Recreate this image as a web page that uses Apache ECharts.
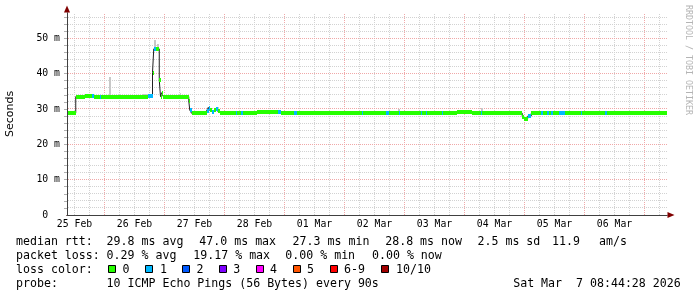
<!DOCTYPE html>
<html><head><meta charset="utf-8">
<script src="https://cdn.jsdelivr.net/npm/echarts@6/dist/echarts.min.js"></script>
<style>html,body{margin:0;padding:0;background:#fff}#c{width:697px;height:297px}</style>
</head><body><div id="c"></div>
<script>
// time in hours since 25 Feb 00:00 ; median rtt in ms ; loss level index
const segStart = [9.0,12.5,16.0,19.0,19.6,22.0,22.6,41.4,43.2,43.7,44.4,45.9,46.4,46.8,47.5,57.7,58.1,58.8,
  64.8,65.6,66.1,66.9,67.7,68.5,69.3,70.0,70.8,76.4,77.1,78.4,79.2,85.1,93.2,94.4,99.6,101.1,126.8,127.5,
  136.4,137.7,138.4,139.5,141.7,142.1,150.4,151.0,152.4,153.1,159.1,159.5,165.1,171.1,174.4,174.8,191.1,
  191.7,193.3,194.7,198.4,199.2,200.8,201.6,202.4,203.2,205.7,208.0,214.4,215.1,224.0,224.8,228.8,236.8];
const segMedian = [28.9,33.5,33.7,33.7,33.5,33.5,33.5,33.6,40.3,47.0,47.0,38.2,33.5,34.6,33.5,32.3,29.7,28.8,
  29.5,30.4,29.6,29.2,29.6,30.1,29.3,29.0,28.8,28.8,28.8,28.8,28.8,29.1,29.1,28.8,28.8,28.8,28.8,28.8,
  28.8,28.8,29.0,28.8,28.8,28.8,28.8,28.8,28.8,28.8,28.8,28.8,29.2,28.8,28.8,28.8,27.8,
  27.3,28.0,28.8,28.8,28.8,28.8,28.8,28.8,28.8,28.8,28.8,28.8,28.8,28.8,28.8,29.0,28.8];
const segLoss = [0,0,0,1,0,1,0,1,0,1,0,0,0,0,0,0,1,0,
  1,1,0,1,0,1,0,0,0,1,0,1,0,0,1,0,1,0,1,0,
  1,0,0,0,1,0,1,0,1,0,1,0,0,0,1,0,0,
  0,1,0,1,0,1,0,1,0,1,0,1,0,1,0,0,0];
const endHour = 249;
// smoke (ping spread)
const smokeStart = [25.9,39.0,43.9,45.1,54.2,65.0,68.9,85.1,141.3,163.1,174.4,211.7,228.8];
const smokeEnd   = [26.7,43.2,44.7,45.9,54.6,66.0,69.7,94.4,142.0,165.1,175.3,215.7,236.8];
const smokeLow   = [33.5,33.5,47.0,47.0,33.5,29.5,29.3,29.1,28.8,28.8,28.8,28.8,29.0];
const smokeHigh  = [39.1,34.3,49.5,48.4,34.6,30.6,30.6,29.6,30.0,29.4,30.2,29.3,29.4];
// axis labels
const dayLabels = ['25 Feb','26 Feb','27 Feb','28 Feb','01 Mar','02 Mar','03 Mar','04 Mar','05 Mar','06 Mar'];
const dayLabelHours = [12,36,60,84,108,132,156,180,204,228];
const yLabelValues = [0,10,20,30,40,50];
// legend
const lossLabels = ['0','1','2','3','4','5','6-9','10/10'];
const lossColors = ['#26ff00','#00b8ff','#0059ff','#7e00ff','#ff00ff','#ff5500','#ff0000','#a10000'];
const rttTitle = 'median rtt:';
const rttStats = ['29.8 ms avg','47.0 ms max','27.3 ms min','28.8 ms now','2.5 ms sd','11.9','am/s'];
const lossTitle = 'packet loss:';
const lossStats = ['0.29 % avg','19.17 % max','0.00 % min','0.00 % now'];
const colorTitle = 'loss color:';
const probeTitle = 'probe:';
const probeText = '10 ICMP Echo Pings (56 Bytes) every 90s';
const stampText = 'Sat Mar  7 08:44:28 2026';

// ---- layout / style ----
const X_MIN = 9, X_MAX = 249, Y_MAX = 57.16;
const MINOR = '#d2d2d2', MAJOR = '#f0a8a8';
const MONO = '"DejaVu Sans Mono"';
const vGrid = []; for (let h = 12; h <= 246; h += 6) vGrid.push([h, h % 24 === 0 ? 1 : 0]);
const hGrid = []; for (let v = 2; v <= 56; v += 2) hGrid.push([v, v % 10 === 0 ? 1 : 0]);
const yTicks = hGrid.map(d => d[0]);

const bandData = segStart.map((s, i) => [s, i + 1 < segStart.length ? segStart[i + 1] : endHour, segMedian[i], segLoss[i]]);
const lineData = segStart.map((s, i) => [s, segMedian[i]]).concat([[endHour, segMedian[segMedian.length - 1]]]);
const smokeData = smokeStart.map((s, i) => [s, smokeEnd[i], smokeLow[i], smokeHigh[i]]);

const LF = 11.6;
const rowY = [242.4, 256.2, 270.0, 283.8];
const rttX = [106.6, 199.3, 292.6, 385.2, 477.5, 552.0, 599.0];
const lossX = [106.6, 193.3, 285.3, 372.0];
const sqX = [108, 145, 182, 219, 256, 293, 330, 381];
const sqLabelX = [122.6, 160.0, 196.6, 233.3, 270.0, 307.0, 344.0, 396.0];
function txt(x, y, s, opt) {
  return Object.assign({type: 'text', x: x, y: y, silent: true,
    style: {text: s, fontFamily: MONO, fontSize: LF, fill: '#000', verticalAlign: 'middle', align: 'left'}}, opt || {});
}
const g = [];
g.push(txt(16, rowY[0], rttTitle));
rttStats.forEach((s, i) => g.push(txt(rttX[i], rowY[0], s)));
g.push(txt(16, rowY[1], lossTitle));
lossStats.forEach((s, i) => g.push(txt(lossX[i], rowY[1], s)));
g.push(txt(16, rowY[2], colorTitle));
lossLabels.forEach((s, i) => {
  g.push({type: 'rect', silent: true, shape: {x: sqX[i] + 0.5, y: 265.5, width: 7, height: 7},
    style: {fill: lossColors[i], stroke: '#000', lineWidth: 1}});
  g.push(txt(sqLabelX[i], rowY[2], s));
});
g.push(txt(16, rowY[3], probeTitle));
g.push(txt(106.6, rowY[3], probeText));
g.push(txt(513.2, rowY[3], stampText));
g.push({type: 'text', x: 688, y: 60, rotation: -Math.PI / 2, silent: true,
  style: {text: 'RRDTOOL / TOBI OETIKER', fontFamily: MONO, fontSize: 8.3, fill: '#b4b4b4', align: 'center', verticalAlign: 'middle'}});

const axisCommon = {min: X_MIN, max: X_MAX, type: 'value', position: 'bottom'};
const option = {
  animation: false,
  backgroundColor: '#ffffff',
  grid: {left: 67, right: 30, top: 13, bottom: 82, containLabel: false, outerBoundsMode: 'none'},
  xAxis: [
    Object.assign({}, axisCommon, {
      z: 5,
      axisLine: {show: true, onZero: false, lineStyle: {color: '#404040', width: 1}},
      axisTick: {show: false},
      splitLine: {show: false},
      axisLabel: {show: true, customValues: dayLabelHours, margin: 4, color: '#000', fontFamily: MONO, fontSize: 9.8,
        formatter: v => dayLabels[dayLabelHours.indexOf(v)] || ''}
    }),
    Object.assign({}, axisCommon, {
      z: 4,
      axisLine: {show: true, onZero: false, lineStyle: {color: '#800000', width: 1},
        symbol: ['none', 'triangle'], symbolSize: [6, 7], symbolOffset: [0, 4]},
      axisTick: {show: false}, splitLine: {show: false}, axisLabel: {show: false}
    })
  ],
  yAxis: [
    {
      type: 'value', min: 0, max: Y_MAX, position: 'left', z: 5,
      name: 'Seconds', nameLocation: 'middle', nameRotate: 90, nameGap: 51, nameMoveOverlap: false,
      nameTextStyle: {fontFamily: '"DejaVu Sans"', fontSize: 11, color: '#000'},
      axisLine: {show: true, onZero: false, lineStyle: {color: '#404040', width: 1}},
      axisTick: {show: true, customValues: yTicks, length: 3, lineStyle: {color: '#b0b0b0'}},
      splitLine: {show: false},
      axisLabel: {show: true, customValues: yLabelValues, margin: 7, color: '#000', fontFamily: MONO, fontSize: 9.8,
        formatter: v => v === 0 ? '0  ' : v + ' m'}
    },
    {
      type: 'value', min: 0, max: Y_MAX, position: 'left', z: 4,
      axisLine: {show: true, onZero: false, lineStyle: {color: '#800000', width: 1},
        symbol: ['none', 'triangle'], symbolSize: [6, 7], symbolOffset: [0, 4]},
      axisTick: {show: false}, splitLine: {show: false}, axisLabel: {show: false}
    }
  ],
  graphic: g,
  series: [
    {
      type: 'custom', name: 'vgrid', z: 1, silent: true, encode: {x: 0},
      data: vGrid,
      renderItem: (params, api) => {
        const h = api.value(0), major = api.value(1);
        const b = api.coord([h, 0]), t = api.coord([h, Y_MAX]);
        const x = Math.floor(b[0]) + 0.5;
        return {type: 'line', shape: {x1: x, y1: Math.round(b[1]), x2: x, y2: Math.round(t[1])},
          style: {stroke: major ? MAJOR : MINOR, lineWidth: 1, lineDash: [1, 1]}};
      }
    },
    {
      type: 'custom', name: 'hgrid', z: 1, silent: true, encode: {y: 0},
      data: hGrid,
      renderItem: (params, api) => {
        const v = api.value(0), major = api.value(1);
        const l = api.coord([X_MIN, v]), r = api.coord([X_MAX, v]);
        const y = Math.floor(l[1]) + 0.5;
        return {type: 'line', shape: {x1: Math.round(l[0]) + 1, y1: y, x2: Math.round(r[0]), y2: y},
          style: {stroke: major ? MAJOR : MINOR, lineWidth: 1, lineDash: [1, 1]}};
      }
    },
    {
      type: 'custom', name: 'smoke', z: 2, silent: true, encode: {x: [0, 1], y: [2, 3]},
      data: smokeData,
      renderItem: (params, api) => {
        const p0 = api.coord([api.value(0), api.value(3)]), p1 = api.coord([api.value(1), api.value(2)]);
        const x0 = Math.round(p0[0]), x1 = Math.round(p1[0]);
        const y0 = Math.round(p0[1]), y1 = Math.round(p1[1]);
        return {type: 'rect', shape: {x: x0, y: y0, width: Math.max(1, x1 - x0), height: Math.max(1, y1 - y0)},
          style: {fill: '#c8c8c8'}};
      }
    },
    {
      type: 'line', name: 'median', z: 3, silent: true, step: 'end', showSymbol: false, symbol: 'none',
      data: lineData, lineStyle: {color: '#202020', width: 1}, emphasis: {disabled: true}
    },
    {
      type: 'custom', name: 'band', z: 4, silent: true, encode: {x: [0, 1], y: 2},
      data: bandData,
      renderItem: (params, api) => {
        const v = api.value(2);
        const p0 = api.coord([api.value(0), v]), p1 = api.coord([api.value(1), v]);
        const x0 = Math.round(p0[0]), x1 = Math.round(p1[0]);
        const y0 = Math.round(p0[1] - 2);
        return {type: 'rect', shape: {x: x0, y: y0, width: Math.max(1, x1 - x0), height: 4},
          style: {fill: lossColors[api.value(3)]}};
      }
    }
  ]
};
const chart = echarts.init(document.getElementById('c'), null, {renderer: 'canvas', width: 697, height: 297});
chart.setOption(option);
</script>
</body></html>
